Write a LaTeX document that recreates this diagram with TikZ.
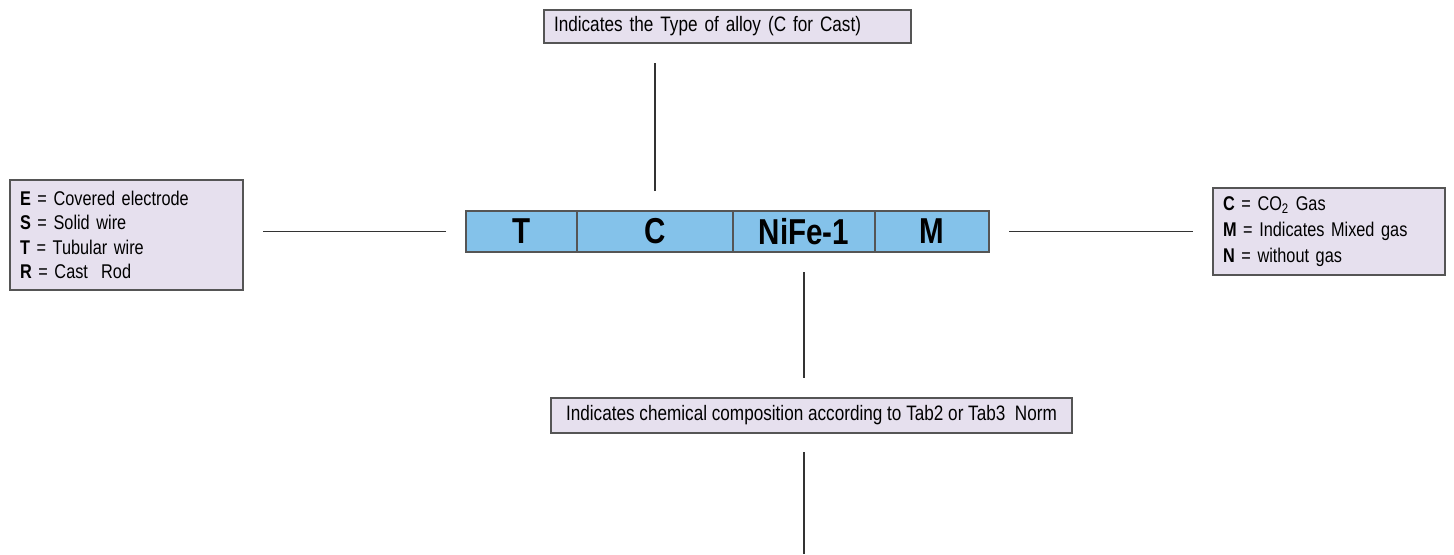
\documentclass[tikz,border=0pt]{standalone}
\usepackage{fontspec}
\setmainfont{Liberation Sans}
\newfontfamily\narrowsans[FakeStretch=0.82]{Liberation Sans}
\usetikzlibrary{positioning}
\definecolor{barblue}{RGB}{132,194,234}
\definecolor{notefill}{RGB}{230,224,238}
\definecolor{edgegray}{RGB}{85,85,85}

\begin{document}
\begin{tikzpicture}[seg/.style={rectangle,draw=edgegray,line width=0.6pt,fill=barblue,
                        minimum height=0.82cm,inner sep=0pt,outer sep=0pt,
                        font=\narrowsans\fontsize{20.5}{22}\selectfont\bfseries},
                    note/.style={rectangle,draw=edgegray,line width=0.6pt,fill=notefill,
                        inner xsep=0.2cm,inner ysep=0pt,outer sep=0pt,align=left},
                    link/.style={draw=black!80,line width=0.6pt,
                        shorten >=0.4cm,shorten <=0.4cm}]
                    \useasboundingbox (0,0) rectangle (29.08,-11.08);
                    % code bar
                    \node (s1) [seg,minimum width=2.22cm] at (10.43,-4.63) {T};
                    \node (s2) [seg,minimum width=3.12cm,right=0cm of s1] {C};
                    \node (s3) [seg,minimum width=2.84cm,right=0cm of s2] {NiFe-1};
                    \node (s4) [seg,minimum width=2.28cm,right=0cm of s3] {M};
                    % notes
                    \node (top) [note,text width=6.94cm,minimum height=0.66cm,
                        font=\narrowsans\fontsize{11.9}{13}\selectfont] at (14.55,-0.53)
                        {Indicates the Type of alloy (C for Cast)};
                    \node (lft) [note,text width=4.26cm,minimum height=2.2cm,
                        font=\narrowsans\fontsize{11.3}{13.9}\selectfont] at (2.53,-4.70)
                        {\textbf{E} = Covered electrode\\
                         \textbf{S} = Solid wire\\
                         \textbf{T} = Tubular wire\\
                         \textbf{R} = Cast\ \ Rod};
                    \node (rgt) [note,text width=4.24cm,minimum height=1.74cm,
                        font=\narrowsans\fontsize{11.3}{14.7}\selectfont] at (26.58,-4.63)
                        {\textbf{C} = CO\textsubscript{2} Gas\\
                         \textbf{M} = Indicates Mixed gas\\
                         \textbf{N} = without gas};
                    \node (bot) [note,minimum width=10.42cm,minimum height=0.70cm,inner xsep=0pt,
                        font=\narrowsans\fontsize{11.9}{13}\selectfont] at (16.23,-8.31)
                        {Indicates chemical composition according to Tab2 or Tab3\ \ Norm};
                    \coordinate (foot) at (s3.south |- 0,-11.08);
                    % connectors
                    \draw[link] (s2.north) -- (s2.north |- top.south);
                    \draw[link] (s1.west) -- (s1.west -| lft.east);
                    \draw[link] (s4.east) -- (s4.east -| rgt.west);
                    \draw[link] (s3.south) -- (s3.south |- bot.north);
                    \draw[link,shorten >=0pt,shorten <=0.38cm] (s3.south |- bot.south) -- (foot);
                \end{tikzpicture}
\end{document}
